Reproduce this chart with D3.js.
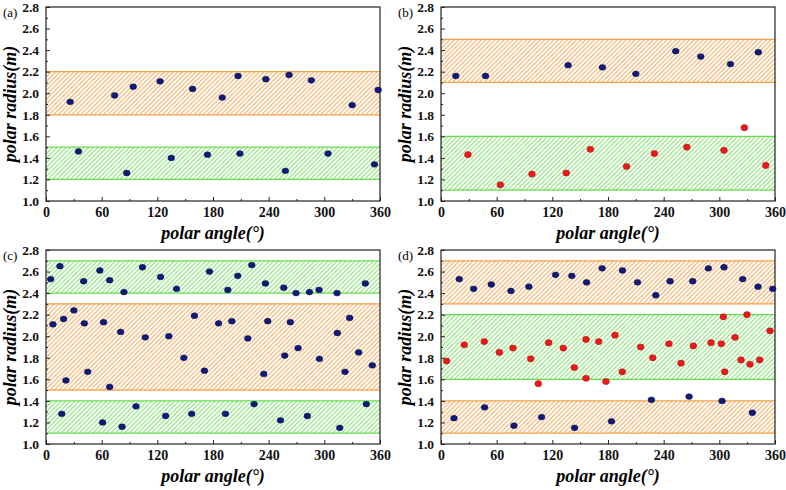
<!DOCTYPE html>
<html>
<head>
<meta charset="utf-8">
<script src="https://cdn.jsdelivr.net/npm/d3@7"></script>
<style>
  body { margin: 0; background: #fff; }
  svg { display: block; }
</style>
</head>
<body>
<svg id="chart" width="786" height="490"></svg>
<script>
// axis ticks
const xTicks = [0, 60, 120, 180, 240, 300, 360]
const xMinor = [30, 90, 150, 210, 270, 330]
const yTicks = [1.0, 1.2, 1.4, 1.6, 1.8, 2.0, 2.2, 2.4, 2.6, 2.8]
const yMinor = [1.1, 1.3, 1.5, 1.7, 1.9, 2.1, 2.3, 2.5, 2.7]

// [polar angle (deg), polar radius (m)]
const aBlue = [[26, 1.92], [35, 1.46], [74, 1.98], [87, 1.26], [94, 2.06], [123, 2.11],
    [135, 1.40], [158, 2.04], [174, 1.43], [190, 1.96], [207, 2.16], [209, 1.44],
    [237, 2.13], [258, 1.28], [262, 2.17], [286, 2.12], [304, 1.44], [330, 1.89],
    [354, 1.34], [358, 2.03]]
const aBands = [[1.8, 2.2, 'orange'], [1.2, 1.5, 'green']]

const bBlue = [[16, 2.16], [48, 2.16], [137, 2.26], [174, 2.24], [210, 2.18], [253, 2.39],
    [280, 2.34], [312, 2.27], [342, 2.38]]
const bRed = [[29, 1.43], [64, 1.15], [98, 1.25], [135, 1.26], [161, 1.48], [200, 1.32],
    [230, 1.44], [265, 1.50], [305, 1.47], [327, 1.68], [350, 1.33]]
const bBands = [[2.1, 2.5, 'orange'], [1.1, 1.6, 'green']]

const cBlue = [[5, 2.53], [7.5, 2.11], [15, 2.65], [17, 1.28], [19, 2.16], [21.5, 1.59],
    [30, 2.24], [40.6, 2.51], [41.3, 2.12], [45, 1.67], [58, 2.61], [61, 1.20],
    [62, 2.13], [68.6, 2.52], [68.6, 1.53], [80.4, 2.04], [82, 1.16], [84, 2.41],
    [97, 1.35], [104, 2.64], [107, 1.99], [123.5, 2.55], [129, 1.26], [132.4, 2.00],
    [140.7, 2.44], [148.6, 1.80], [157, 1.28], [160, 2.19], [170.8, 1.68], [176.2, 2.60],
    [186, 2.12], [193.4, 1.28], [196, 2.43], [200.3, 2.14], [206.7, 2.56], [217.5, 1.98],
    [221.8, 2.66], [224.3, 1.37], [234.7, 1.65], [236.5, 2.49], [239, 2.14], [252.7, 1.22],
    [256.3, 2.45], [257.3, 1.82], [263.4, 2.13], [269.5, 2.40], [271.7, 1.89], [281.7, 1.26],
    [284, 2.41], [294.3, 2.43], [294.7, 1.79], [313.7, 2.40], [314, 2.03], [316.6, 1.15],
    [322.3, 1.67], [327.3, 2.17], [337, 1.85], [344.2, 2.49], [345.3, 1.37], [351.7, 1.73]]
const cBands = [[2.4, 2.7, 'green'], [1.5, 2.3, 'orange'], [1.1, 1.4, 'green']]

const dBlue = [[14, 1.24], [19.7, 2.53], [35.2, 2.44], [47, 1.34], [54.2, 2.48], [75.4, 2.42],
    [78.6, 1.17], [94.7, 2.46], [108.4, 1.25], [123.5, 2.57], [141, 2.56], [144, 1.15],
    [156.9, 2.50], [173.7, 2.63], [183.8, 1.21], [195.6, 2.61], [211.8, 2.50], [226.8, 1.41],
    [231.5, 2.38], [246.9, 2.51], [267.4, 1.44], [271.3, 2.51], [288.2, 2.63], [302.9, 1.40],
    [305, 2.64], [325.2, 2.53], [335.6, 1.29], [341.7, 2.46], [357.5, 2.44]]
const dRed = [[6.1, 1.77], [25.1, 1.92], [46.7, 1.95], [62.9, 1.85], [77.6, 1.89], [96.7, 1.79],
    [104.9, 1.56], [116, 1.94], [131.8, 1.89], [143.7, 1.71], [156.3, 1.97], [156.3, 1.61],
    [170, 1.95], [177.8, 1.58], [187.5, 2.01], [195.4, 1.67], [215.2, 1.90], [228.2, 1.80],
    [245.7, 1.93], [258.7, 1.75], [272, 1.91], [291, 1.94], [302.2, 1.93], [304.3, 2.18],
    [305.8, 1.67], [316.9, 1.99], [323.4, 1.78], [329.8, 2.20], [333, 1.74], [343.5, 1.78],
    [354.6, 2.05]]
const dBands = [[2.3, 2.7, 'orange'], [1.6, 2.2, 'green'], [1.1, 1.4, 'orange']]

const colors = {
    orange: { line: '#f5a04a', hatch: '#f6a858' },
    green: { line: '#66dd50', hatch: '#7ee26a' }
}

const panels = [
    { label: '(a)', left: 46, top: 7, blue: aBlue, red: [], bands: aBands },
    { label: '(b)', left: 441, top: 7, blue: bBlue, red: bRed, bands: bBands },
    { label: '(c)', left: 46, top: 250, blue: cBlue, red: [], bands: cBands },
    { label: '(d)', left: 441, top: 250, blue: dBlue, red: dRed, bands: dBands }
]
const W = 334, H = 194
const serif = "'Liberation Serif', 'Times New Roman', serif"

const svg = d3.select('#chart')

// hatch patterns
const defs = svg.append('defs')
Object.keys(colors).forEach(k => {
    defs.append('pattern')
        .attr('id', 'hatch-' + k)
        .attr('patternUnits', 'userSpaceOnUse')
        .attr('width', 3.2)
        .attr('height', 3.2)
        .attr('patternTransform', 'rotate(45)')
      .append('line')
        .attr('x1', 0.6).attr('y1', 0)
        .attr('x2', 0.6).attr('y2', 3.2)
        .attr('stroke', colors[k].hatch)
        .attr('stroke-width', 1.0)
})

function styleAxis(size) {
    return a => {
        a.select('.domain').remove()
        a.attr('font-family', null).attr('font-size', null)
        a.selectAll('.tick line').attr('stroke', '#222')
        a.selectAll('.tick text')
            .attr('fill', '#111')
            .style('font-family', serif)
            .style('font-size', size + 'px')
            .style('font-weight', 'bold')
    }
}

panels.forEach(p => {
    const x = d3.scaleLinear().domain([0, 360]).range([p.left, p.left + W])
    const y = d3.scaleLinear().domain([1.0, 2.8]).range([p.top + H, p.top])
    const g = svg.append('g')

    // bands
    p.bands.forEach(b => {
        const c = colors[b[2]]
        g.append('rect')
            .attr('x', x(0)).attr('y', y(b[1]))
            .attr('width', x(360) - x(0)).attr('height', y(b[0]) - y(b[1]))
            .attr('fill', `url(#hatch-${b[2]})`)
        ;[b[0], b[1]].forEach(v => {
            g.append('line')
                .attr('x1', x(0)).attr('x2', x(360))
                .attr('y1', y(v)).attr('y2', y(v))
                .attr('stroke', c.line)
                .attr('stroke-width', 1.3)
        })
    })

    // axes
    g.append('g')
        .attr('transform', `translate(0,${p.top + H})`)
        .call(d3.axisBottom(x).tickValues(xTicks).tickSize(-4).tickPadding(6).tickFormat(d3.format('d')))
        .call(styleAxis(14))
    g.append('g')
        .attr('transform', `translate(0,${p.top + H})`)
        .call(d3.axisBottom(x).tickValues(xMinor).tickSize(-2).tickFormat(''))
        .call(styleAxis(14))
    g.append('g')
        .attr('transform', `translate(${p.left},0)`)
        .call(d3.axisLeft(y).tickValues(yTicks).tickSize(-4).tickPadding(7).tickFormat(d3.format('.1f')))
        .call(styleAxis(13.5))
    g.append('g')
        .attr('transform', `translate(${p.left},0)`)
        .call(d3.axisLeft(y).tickValues(yMinor).tickSize(-2).tickFormat(''))
        .call(styleAxis(13.5))

    // frame
    g.append('rect')
        .attr('x', x(0)).attr('y', y(2.8))
        .attr('width', W).attr('height', H)
        .attr('fill', 'none')
        .attr('stroke', '#222')
        .attr('stroke-width', 1.2)

    // points
    g.append('g').selectAll('ellipse').data(p.blue).enter().append('ellipse')
        .attr('cx', d => x(d[0])).attr('cy', d => y(d[1]))
        .attr('rx', 3.4).attr('ry', 2.9)
        .attr('fill', '#101a78')
        .attr('stroke', '#0a0f4a').attr('stroke-width', 0.5)
    g.append('g').selectAll('ellipse').data(p.red).enter().append('ellipse')
        .attr('cx', d => x(d[0])).attr('cy', d => y(d[1]))
        .attr('rx', 3.4).attr('ry', 3.1)
        .attr('fill', '#f01818')
        .attr('stroke', '#a01010').attr('stroke-width', 0.5)

    // titles
    g.append('text')
        .attr('x', p.left + W / 2).attr('y', p.top + H + 38)
        .attr('text-anchor', 'middle')
        .attr('font-family', serif).attr('font-weight', 'bold').attr('font-style', 'italic')
        .attr('font-size', 18)
        .text('polar angle(°)')
    g.append('text')
        .attr('transform', `translate(${p.left - 30},${p.top + H / 2}) rotate(-90)`)
        .attr('text-anchor', 'middle')
        .attr('font-family', serif).attr('font-weight', 'bold').attr('font-style', 'italic')
        .attr('font-size', 18)
        .text('polar radius(m)')
    g.append('text')
        .attr('x', p.left - 43).attr('y', p.top + 10)
        .attr('font-family', serif).attr('font-size', 13)
        .text(p.label)
})
</script>
</body>
</html>
